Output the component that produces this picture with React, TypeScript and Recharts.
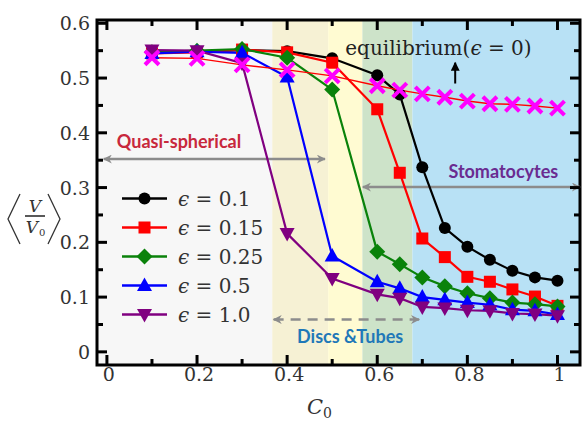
import React from "react";
import {
  ComposedChart,
  Line,
  XAxis,
  YAxis,
  ReferenceArea,
  ReferenceLine,
  ReferenceDot,
  Legend,
} from "recharts";

// C0 values sampled in the simulations
const c0 = [0.1, 0.2, 0.3, 0.4, 0.5, 0.6, 0.65, 0.7, 0.75, 0.8, 0.85, 0.9, 0.95, 1.0];

// <V/V0> for each activity epsilon
const eps01 = [0.547, 0.548, 0.551, 0.549, 0.536, 0.505, 0.47, 0.337, 0.226, 0.192, 0.168, 0.148, 0.136, 0.13];
const eps015 = [0.545, 0.547, 0.552, 0.547, 0.528, 0.443, 0.327, 0.207, 0.173, 0.137, 0.128, 0.114, 0.101, 0.084];
const eps025 = [0.547, 0.55, 0.553, 0.537, 0.479, 0.183, 0.16, 0.136, 0.12, 0.107, 0.098, 0.09, 0.087, 0.083];
const eps05 = [0.545, 0.548, 0.546, 0.502, 0.175, 0.128, 0.116, 0.1, 0.095, 0.09, 0.086, 0.077, 0.075, 0.068];
const eps10 = [0.551, 0.55, 0.527, 0.216, 0.134, 0.105, 0.098, 0.082, 0.08, 0.076, 0.075, 0.07, 0.069, 0.066];
const equil = [0.537, 0.536, 0.524, 0.515, 0.504, 0.486, 0.478, 0.471, 0.465, 0.458, 0.453, 0.452, 0.449, 0.445];

const xTicks = [0, 0.2, 0.4, 0.6, 0.8, 1];
const xMinor = [0.1, 0.3, 0.5, 0.7, 0.9];
const yTicks = [0, 0.1, 0.2, 0.3, 0.4, 0.5, 0.6];
const yMinor = [0.05, 0.15, 0.25, 0.35, 0.45, 0.55];

// shaded regime bands: [from, to, colour]
const bands: [number, number, string][] = [
  [-0.022, 0.367, "#f7f7f7"],
  [0.367, 0.491, "#f6f1d4"],
  [0.491, 0.567, "#fffbd2"],
  [0.567, 0.678, "#cde3c9"],
  [0.678, 1.05, "#b8e1f5"],
];

const X_MIN = -0.022;
const X_MAX = 1.05;
const Y_MIN = -0.024;
const Y_MAX = 0.606;

const series = [
  { key: "e01", label: "0.1", color: "#000000", shape: "circle", values: eps01 },
  { key: "e015", label: "0.15", color: "#ff0000", shape: "square", values: eps015 },
  { key: "e025", label: "0.25", color: "#0a820a", shape: "diamond", values: eps025 },
  { key: "e05", label: "0.5", color: "#0000ff", shape: "triangle", values: eps05 },
  { key: "e10", label: "1.0", color: "#800080", shape: "triangleDown", values: eps10 },
];

const data = c0.map((x, i) => {
  const row: Record<string, number> = { x, eq: equil[i] };
  series.forEach((s) => (row[s.key] = s.values[i]));
  return row;
});

const SERIF = "DejaVu Serif";
const SANS = "Lato";
const serifStyle = { fontFamily: SERIF };

function Marker({ shape, color, cx, cy }: { shape: string; color: string; cx: number; cy: number }) {
  if (shape === "circle") return <circle cx={cx} cy={cy} r={6} fill={color} />;
  if (shape === "square") return <rect x={cx - 6} y={cy - 6} width={12} height={12} fill={color} />;
  if (shape === "diamond")
    return <polygon points={`${cx},${cy - 8} ${cx + 8},${cy} ${cx},${cy + 8} ${cx - 8},${cy}`} fill={color} />;
  if (shape === "triangle")
    return <polygon points={`${cx},${cy - 8} ${cx + 7.5},${cy + 5.5} ${cx - 7.5},${cy + 5.5}`} fill={color} />;
  if (shape === "triangleDown")
    return <polygon points={`${cx},${cy + 8} ${cx + 7.5},${cy - 5.5} ${cx - 7.5},${cy - 5.5}`} fill={color} />;
  return (
    <g stroke="#ff00ff" strokeWidth={4}>
      <line x1={cx - 7} y1={cy - 7} x2={cx + 7} y2={cy + 7} />
      <line x1={cx - 7} y1={cy + 7} x2={cx + 7} y2={cy - 7} />
    </g>
  );
}

function LegendBox() {
  return (
    <div>
      {series.map((s) => (
        <div key={s.key} style={{ display: "flex", alignItems: "center", height: 29 }}>
          <svg width={60} height={29}>
            <line x1={4} y1={14.5} x2={49} y2={14.5} stroke={s.color} strokeWidth={2.5} />
            <Marker shape={s.shape} color={s.color} cx={26.5} cy={14.5} />
          </svg>
          <span style={{ fontFamily: SERIF, fontSize: 20, color: "#333", whiteSpace: "pre" }}>
            <i>ϵ</i> = {s.label}
          </span>
        </div>
      ))}
    </div>
  );
}

function YLabel() {
  return (
    <g fill="#333" style={serifStyle}>
      <path d="M20,194 L8,219 L20,244" fill="none" stroke="#333" strokeWidth={1.3} />
      <path d="M48,194 L60,219 L48,244" fill="none" stroke="#333" strokeWidth={1.3} />
      <text x={35} y={212} fontSize={17} fontStyle="italic" textAnchor="middle" style={serifStyle}>V</text>
      <line x1={25} y1={216} x2={45} y2={216} stroke="#222" strokeWidth={1.5} />
      <text x={32} y={233} fontSize={17} fontStyle="italic" textAnchor="middle" style={serifStyle}>V</text>
      <text x={39} y={236} fontSize={10} style={serifStyle}>0</text>
    </g>
  );
}

function XLabel() {
  return (
    <g fill="#333">
      <text x={307} y={414} fontSize={21} fontStyle="italic" style={serifStyle}>C</text>
      <text x={323} y={418} fontSize={14} style={serifStyle}>0</text>
    </g>
  );
}

function XTick(p: any) {
  return (
    <text x={p.x + 2} y={p.y + 16} textAnchor="middle" fontSize={19} fill="#333" style={serifStyle}>
      {p.payload.value}
    </text>
  );
}

function YTick(p: any) {
  return (
    <text x={p.x} y={p.y + 7} textAnchor="end" fontSize={19} fill="#333" style={serifStyle}>
      {p.payload.value}
    </text>
  );
}

const arrowLine = (marker: string, dash?: string, color = "#8c8c8c", width = 2.5) => (p: any) => (
  <line
    x1={p.x1}
    y1={p.y1}
    x2={p.x2}
    y2={p.y2}
    stroke={color}
    strokeWidth={width}
    strokeDasharray={dash}
    markerStart={marker === "both" ? "url(#ahGray)" : undefined}
    markerEnd={marker === "both" ? "url(#ahGray)" : "url(#ahBlack)"}
  />
);

const textAt = (txt: React.ReactNode, color: string, size: number, font: string, weight = 400) => (p: any) => (
  <text x={p.cx} y={p.cy} fill={color} fontSize={size} fontWeight={weight} style={{ fontFamily: font }}>
    {txt}
  </text>
);

// tick marks drawn inward on all four sides (lengths in data units)
const TX = 0.0222;
const TY = 0.0183;
const tickSegs: { x1: number; y1: number; x2: number; y2: number }[] = [];
[...xTicks.map((t) => [t, 1]), ...xMinor.map((t) => [t, 0.6])].forEach(([t, f]) => {
  tickSegs.push({ x1: t, y1: Y_MIN, x2: t, y2: Y_MIN + TY * f });
  tickSegs.push({ x1: t, y1: Y_MAX, x2: t, y2: Y_MAX - TY * f });
});
[...yTicks.map((t) => [t, 1]), ...yMinor.map((t) => [t, 0.6])].forEach(([t, f]) => {
  tickSegs.push({ x1: X_MIN, y1: t, x2: X_MIN + TX * f, y2: t });
  tickSegs.push({ x1: X_MAX, y1: t, x2: X_MAX - TX * f, y2: t });
});

export default function App() {
  return (
    <div style={{ position: "absolute", left: 0, top: 0, width: 582, height: 421, background: "#fff" }}>
      <svg width={0} height={0} style={{ position: "absolute" }}>
        <defs>
          <marker id="ahGray" viewBox="0 0 10 10" refX={9} refY={5} markerWidth={11} markerHeight={9}
            markerUnits="userSpaceOnUse" orient="auto-start-reverse">
            <path d="M0,0 L10,5 L0,10 L3,5 z" fill="#8c8c8c" />
          </marker>
          <marker id="ahBlack" viewBox="0 0 10 10" refX={9} refY={5} markerWidth={10} markerHeight={9}
            markerUnits="userSpaceOnUse" orient="auto-start-reverse">
            <path d="M0,0 L10,5 L0,10 z" fill="#000" />
          </marker>
        </defs>
      </svg>
      <ComposedChart width={582} height={421} data={data} margin={{ top: 20, right: 2, bottom: 0, left: 0 }}>
        {bands.map(([a, b, col]) => (
          <ReferenceArea key={a} x1={a} x2={b} y1={Y_MIN} y2={Y_MAX} fill={col} fillOpacity={1} stroke="none" />
        ))}
        <XAxis
          dataKey="x"
          type="number"
          domain={[X_MIN, X_MAX]}
          ticks={xTicks}
          allowDataOverflow
          axisLine={false}
          tickLine={false}
          tickSize={0}
          tickMargin={0}
          height={56}
          tick={XTick}
          label={{ content: XLabel }}
        />
        <YAxis
          type="number"
          domain={[Y_MIN, Y_MAX]}
          ticks={yTicks}
          allowDataOverflow
          axisLine={false}
          tickLine={false}
          tickSize={0}
          tickMargin={7}
          width={97}
          tick={YTick}
          label={{ content: YLabel }}
        />

        <ReferenceLine segment={[{ x: -0.007, y: 0.352 }, { x: 0.484, y: 0.352 }]} shape={arrowLine("both")} />
        <ReferenceLine segment={[{ x: 0.568, y: 0.301 }, { x: X_MAX, y: 0.301 }]} shape={arrowLine("both")} />
        <ReferenceLine segment={[{ x: 0.37, y: 0.059 }, { x: 0.693, y: 0.059 }]} shape={arrowLine("both", "10 7")} />
        <ReferenceLine segment={[{ x: 0.773, y: 0.49 }, { x: 0.773, y: 0.528 }]} shape={arrowLine("end", undefined, "#000", 2)} />

        <ReferenceDot x={0.022} y={0.372} r={0} shape={textAt("Quasi-spherical", "#c8283c", 18, SANS, 700)} />
        <ReferenceDot x={0.758} y={0.318} r={0} shape={textAt("Stomatocytes", "#6a2c91", 18, SANS, 700)} />
        <ReferenceDot x={0.422} y={0.016} r={0} shape={textAt("Discs &Tubes", "#1f78b8", 18, SANS, 700)} />
        <ReferenceDot
          x={0.529}
          y={0.542}
          r={0}
          shape={textAt(<>equilibrium(<tspan fontStyle="italic">ϵ</tspan> = 0)</>, "#222", 20, SERIF)}
        />

        {series.map((s) => (
          <Line
            key={s.key}
            dataKey={s.key}
            stroke={s.color}
            strokeWidth={2.2}
            isAnimationActive={false}
            dot={(p: any) => <Marker key={`${s.key}-${p.index}`} shape={s.shape} color={s.color} cx={p.cx} cy={p.cy} />}
            activeDot={false}
          />
        ))}
        <Line
          dataKey="eq"
          stroke="#ff0000"
          strokeWidth={1.4}
          isAnimationActive={false}
          dot={(p: any) => <Marker key={`eq-${p.index}`} shape="x" color="#ff00ff" cx={p.cx} cy={p.cy} />}
          activeDot={false}
        />

        {tickSegs.map((s, i) => (
          <ReferenceLine
            key={`t${i}`}
            segment={[{ x: s.x1, y: s.y1 }, { x: s.x2, y: s.y2 }]}
            stroke="#000"
            strokeWidth={3}
          />
        ))}
        <ReferenceArea x1={X_MIN} x2={X_MAX} y1={Y_MIN} y2={Y_MAX} fill="none" stroke="#000" strokeWidth={3} />

        <Legend
          layout="vertical"
          align="center"
          verticalAlign="middle"
          wrapperStyle={{ left: 118, top: 184, width: "auto" }}
          content={LegendBox}
        />
      </ComposedChart>
    </div>
  );
}
